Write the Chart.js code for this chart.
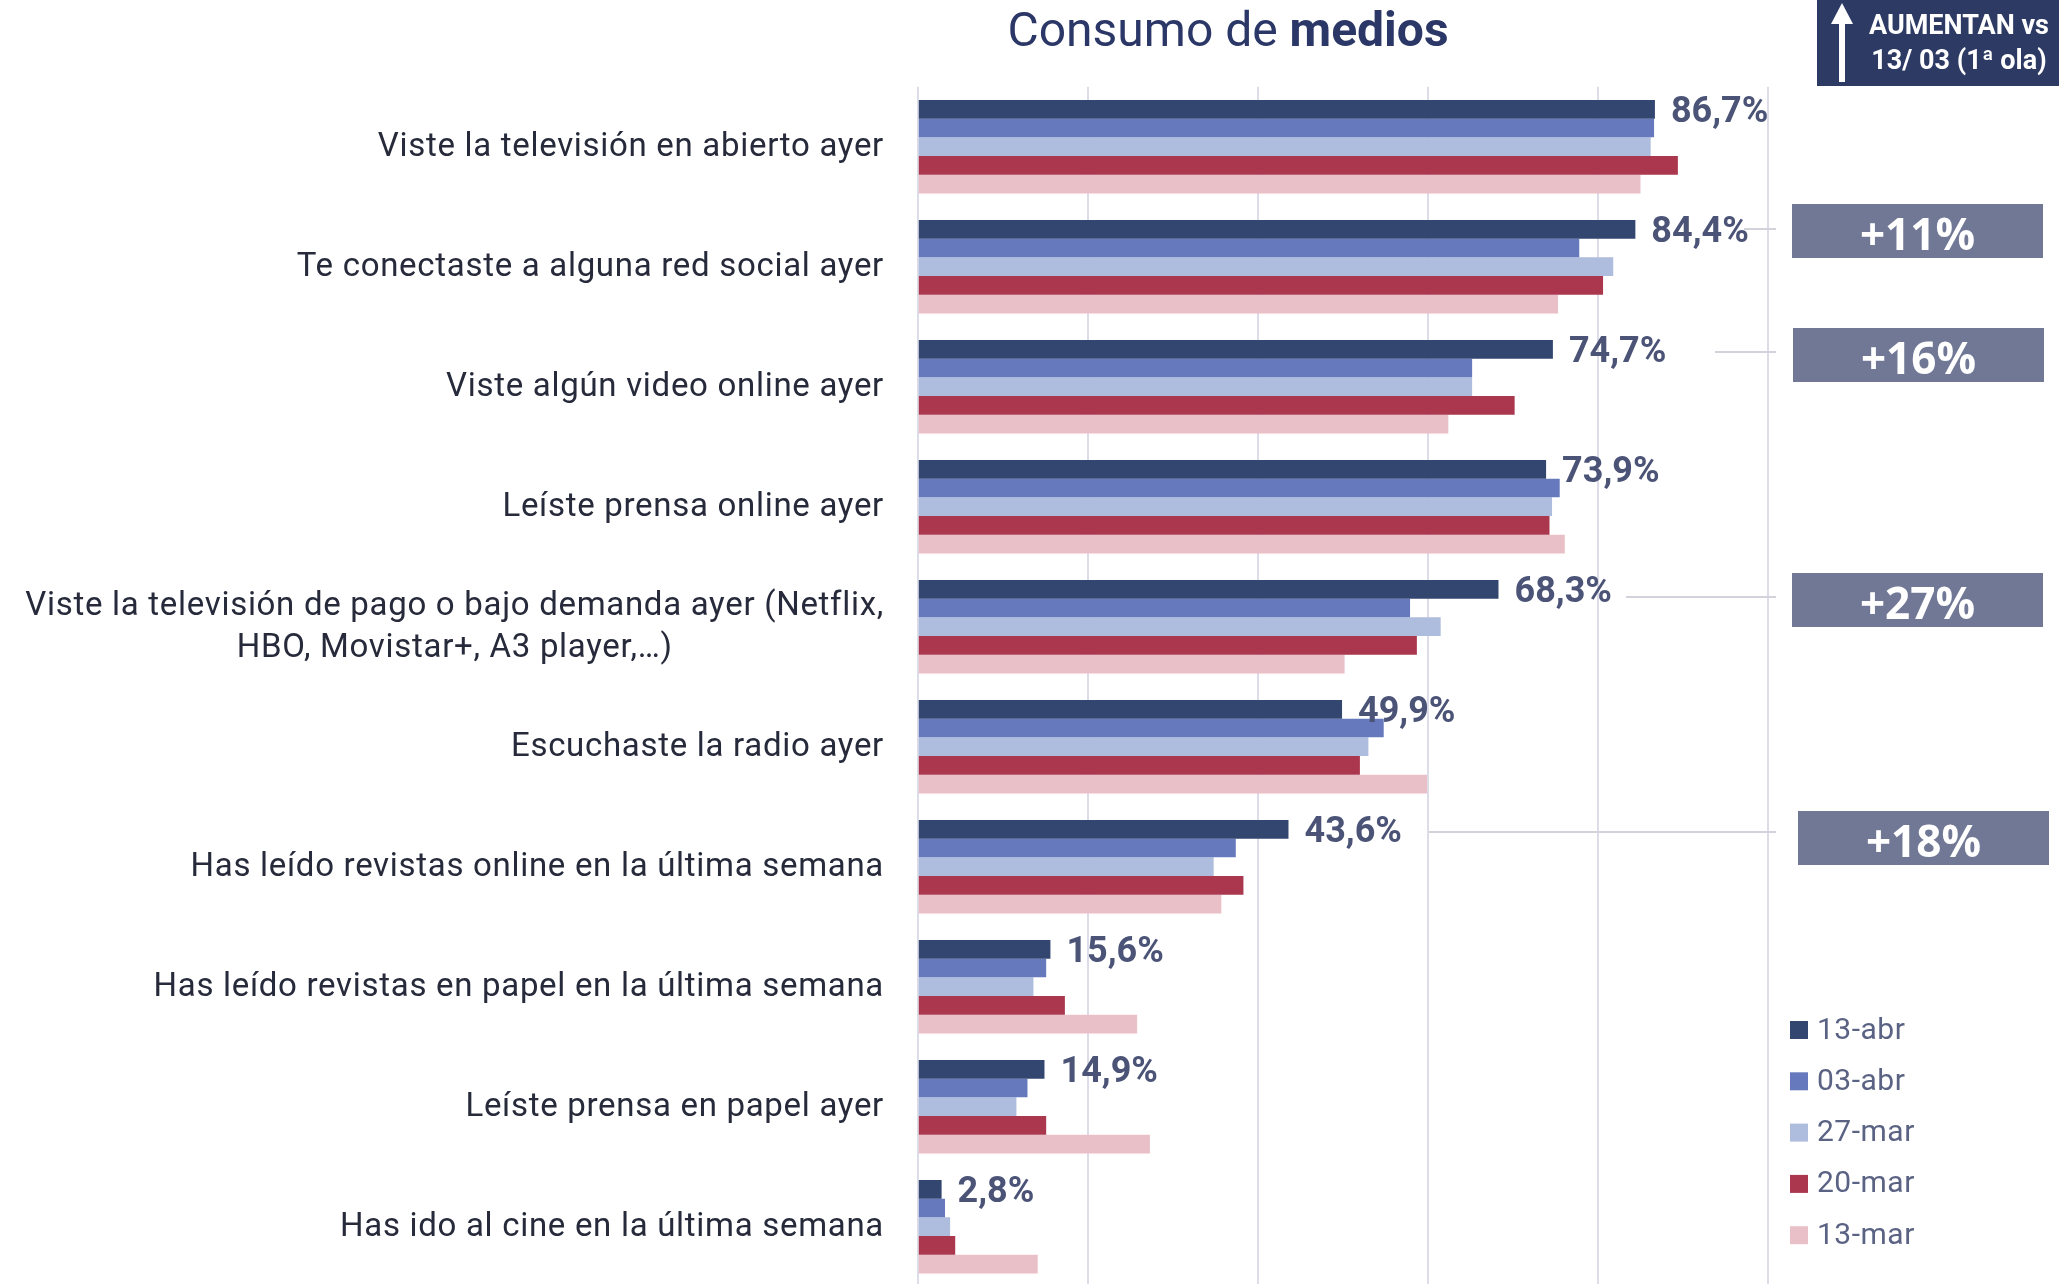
<!DOCTYPE html>
<html>
<head>
<meta charset="utf-8">
<script src="https://cdn.jsdelivr.net/npm/chart.js@4.4.1/dist/chart.umd.min.js"></script>
<style>
  html, body { margin: 0; padding: 0; background: #fff; overflow: hidden; }
  canvas { display: block; }
</style>
</head>
<body>
<canvas id="mediaChart" width="2059" height="1290"></canvas>
<script>
// data
const categories = [
  "Viste la televisión en abierto ayer",
  "Te conectaste a alguna red social ayer",
  "Viste algún video online ayer",
  "Leíste prensa online ayer",
  ["Viste la televisión de pago o bajo demanda ayer (Netflix,", "HBO, Movistar+, A3 player,…)"],
  "Escuchaste la radio ayer",
  "Has leído revistas online en la última semana",
  "Has leído revistas en papel en la última semana",
  "Leíste prensa en papel ayer",
  "Has ido al cine en la última semana"
];
const seriesNames = ["13-abr", "03-abr", "27-mar", "20-mar", "13-mar"];
const abr13 = [86.7, 84.4, 74.7, 73.9, 68.3, 49.9, 43.6, 15.6, 14.9, 2.8];
const abr03 = [86.6, 77.8, 65.2, 75.5, 57.9, 54.8, 37.4, 15.1, 12.9, 3.2];
const mar27 = [86.2, 81.8, 65.2, 74.6, 61.5, 53.0, 34.8, 13.6, 11.6, 3.8];
const mar20 = [89.4, 80.6, 70.2, 74.3, 58.7, 52.0, 38.3, 17.3, 15.1, 4.4];
const mar13 = [85.0, 75.3, 62.4, 76.1, 50.2, 59.9, 35.7, 25.8, 27.3, 14.1];
const barColors = ["#33466f", "#6779bd", "#aebddd", "#ab374f", "#e9c0c7"];

// growth vs 13/03 boxes (category index + text)
const growthIdx = [1, 2, 4, 6];
const growthText = ["+11%", "+16%", "+27%", "+18%"];

// layout bits for the annotations
const growthBoxes = [
  { x: 1792, y: 204, w: 251, h: 54, lineY: 229, lineX: 1744 },
  { x: 1793, y: 328, w: 251, h: 54, lineY: 352, lineX: 1715 },
  { x: 1792, y: 573, w: 251, h: 54, lineY: 597, lineX: 1626 },
  { x: 1798, y: 811, w: 251, h: 54, lineY: 832, lineX: 1429 }
];

const fmt = v => v.toFixed(1).replace(".", ",") + "%";

const decorPlugin = {
  id: "decor",
  afterDraw(chart) {
    const ctx = chart.ctx;
    const yScale = chart.scales.y;

    // title
    ctx.save();
    ctx.textBaseline = "middle";
    ctx.fillStyle = "#2b3766";
    ctx.font = "48px Roboto";
    const t1 = "Consumo de ";
    const w1 = ctx.measureText(t1).width;
    ctx.font = "bold 48px Roboto";
    const w2 = ctx.measureText("medios").width;
    let tx = 1228 - (w1 + w2) / 2;
    ctx.textAlign = "left";
    ctx.font = "48px Roboto";
    ctx.fillText(t1, tx, 34);
    ctx.font = "bold 48px Roboto";
    ctx.fillText("medios", tx + w1, 34);
    ctx.restore();

    // category labels
    ctx.save();
    ctx.fillStyle = "#262a3a";
    ctx.font = "33px Roboto";
    ctx.letterSpacing = "0.7px";
    ctx.textBaseline = "middle";
    categories.forEach((lab, i) => {
      const y = yScale.getPixelForValue(i) + 1;
      if (Array.isArray(lab)) {
        ctx.textAlign = "right";
        const w = ctx.measureText(lab[0]).width;
        ctx.fillText(lab[0], 884, y - 21);
        ctx.textAlign = "center";
        ctx.fillText(lab[1], 884 - w / 2, y + 21);
      } else {
        ctx.textAlign = "right";
        ctx.fillText(lab, 884, y);
      }
    });
    ctx.restore();

    // value labels for the latest wave
    const meta = chart.getDatasetMeta(0);
    ctx.save();
    ctx.fillStyle = "#4b5477";
    ctx.font = "bold 36px Roboto";
    ctx.textAlign = "left";
    ctx.textBaseline = "middle";
    meta.data.forEach((bar, i) => {
      ctx.fillText(fmt(abr13[i]), bar.x + 16, bar.y + 4);
    });
    ctx.restore();

    // connector lines + growth boxes
    ctx.save();
    growthIdx.forEach((ci, k) => {
      const b = growthBoxes[k];
      ctx.strokeStyle = "#d2d3da";
      ctx.lineWidth = 2;
      ctx.beginPath();
      ctx.moveTo(b.lineX, b.lineY);
      ctx.lineTo(1776, b.lineY);
      ctx.stroke();
      ctx.fillStyle = "#717895";
      ctx.fillRect(b.x, b.y, b.w, b.h);
      ctx.fillStyle = "#ffffff";
      ctx.font = "bold 44px 'Open Sans'";
      ctx.textAlign = "center";
      ctx.textBaseline = "middle";
      ctx.fillText(growthText[k], b.x + b.w / 2, b.y + b.h / 2 + 6);
    });
    ctx.restore();

    // top right header box
    ctx.save();
    ctx.fillStyle = "#2c3a64";
    ctx.fillRect(1817, 0, 242, 86);
    ctx.fillStyle = "#ffffff";
    ctx.fillRect(1839, 22, 6, 60);
    ctx.beginPath();
    ctx.moveTo(1842, 3);
    ctx.lineTo(1853, 24);
    ctx.lineTo(1831, 24);
    ctx.closePath();
    ctx.fill();
    ctx.font = "bold 27px Roboto";
    ctx.textAlign = "center";
    ctx.textBaseline = "middle";
    ctx.fillText("AUMENTAN vs", 1959, 27);
    ctx.fillText("13/ 03 (1ª ola)", 1959, 62);
    ctx.restore();

    // legend
    ctx.save();
    ctx.font = "30px Roboto";
    ctx.letterSpacing = "0.5px";
    ctx.textAlign = "left";
    ctx.textBaseline = "middle";
    seriesNames.forEach((name, i) => {
      const cy = 1030 + i * 51.3;
      ctx.fillStyle = barColors[i];
      ctx.fillRect(1790, cy - 9, 18, 18);
      ctx.fillStyle = "#5b6384";
      ctx.fillText(name, 1817, cy + 1);
    });
    ctx.restore();
  }
};

new Chart("mediaChart", {
  type: "bar",
  data: {
    labels: categories,
    datasets: [abr13, abr03, mar27, mar20, mar13].map((d, i) => ({
      label: seriesNames[i],
      data: d,
      backgroundColor: barColors[i],
      barPercentage: 1,
      categoryPercentage: 0.778
    }))
  },
  options: {
    indexAxis: "y",
    responsive: false,
    animation: false,
    layout: { padding: { left: 0, top: 86.7, right: 291, bottom: 3.3 } },
    plugins: {
      legend: { display: false },
      tooltip: { enabled: false },
      title: { display: false }
    },
    scales: {
      x: {
        min: 0,
        max: 100,
        ticks: { display: false, stepSize: 20 },
        grid: { color: "#dcdde8", lineWidth: 2, drawTicks: false },
        border: { display: false }
      },
      y: {
        ticks: { display: false },
        grid: { display: false, drawTicks: false },
        border: { display: false },
        afterFit(scale) { scale.width = 917.8; }
      }
    }
  },
  plugins: [decorPlugin]
});
</script>
</body>
</html>
